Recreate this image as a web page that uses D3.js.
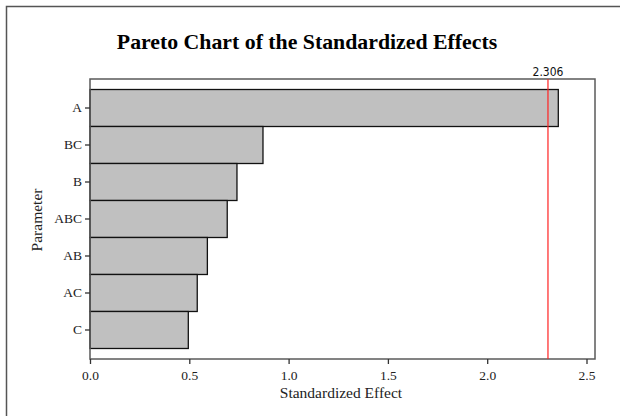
<!DOCTYPE html>
<html>
<head>
<meta charset="utf-8">
<script src="https://cdn.jsdelivr.net/npm/d3@7/dist/d3.min.js"></script>
<style>
  html, body { margin: 0; padding: 0; background: #fff; }
  svg { display: block; }
</style>
</head>
<body>
<script>
// Effect terms, ordered from largest to smallest standardized effect
const terms = ["A", "BC", "B", "ABC", "AB", "AC", "C"];
const effects = [2.358, 0.871, 0.740, 0.691, 0.591, 0.540, 0.495];
const xTicks = [0, 0.5, 1.0, 1.5, 2.0, 2.5];
const criticalValue = 2.306;

const W = 620, H = 416;
const plotLeft = 90, plotRight = 595, plotTop = 79, plotBottom = 359;
const serif = "Liberation Serif, Times New Roman, serif";

const svg = d3.select("body").append("svg")
  .attr("width", W).attr("height", H);

// outer frame (left and top edges)
svg.append("path")
  .attr("d", `M6.5,${H} L6.5,6.5 L${W},6.5`)
  .attr("fill", "none").attr("stroke", "#555").attr("stroke-width", 1.5);

svg.append("text")
  .attr("x", 307).attr("y", 49)
  .attr("text-anchor", "middle")
  .attr("font-family", serif)
  .attr("font-weight", "bold").attr("font-size", 21.8)
  .text("Pareto Chart of the Standardized Effects");

const x = d3.scaleLinear().domain([0, 505 / 198.6]).range([plotLeft, plotRight]);
const y = d3.scaleBand().domain(terms).range([plotTop, plotBottom])
  .paddingInner(0).paddingOuter(0.284);

// bars
svg.append("g").selectAll("rect")
  .data(terms.map((t, i) => ({ t, v: effects[i] })))
  .join("rect")
  .attr("x", x(0))
  .attr("y", d => y(d.t))
  .attr("width", d => x(d.v) - x(0))
  .attr("height", y.bandwidth())
  .attr("fill", "#c0c0c0")
  .attr("stroke", "#111").attr("stroke-width", 1.3);

// plot frame
svg.append("rect")
  .attr("x", plotLeft).attr("y", plotTop)
  .attr("width", plotRight - plotLeft).attr("height", plotBottom - plotTop)
  .attr("fill", "none").attr("stroke", "#5a5a5a").attr("stroke-width", 1.5);

// critical value reference line
svg.append("line")
  .attr("x1", x(criticalValue)).attr("x2", x(criticalValue))
  .attr("y1", plotTop).attr("y2", plotBottom)
  .attr("stroke", "#ff2020").attr("stroke-width", 1.2);

svg.append("text")
  .attr("x", x(criticalValue)).attr("y", 76)
  .attr("text-anchor", "middle")
  .attr("font-family", "DejaVu Sans Condensed, DejaVu Sans, sans-serif")
  .attr("font-stretch", "condensed")
  .attr("font-size", 12).attr("fill", "#111")
  .text(criticalValue.toFixed(3));

// axes
const xAxis = svg.append("g")
  .attr("transform", `translate(0,${plotBottom})`)
  .call(d3.axisBottom(x).tickValues(xTicks).tickFormat(d3.format(".1f")).tickSize(5).tickPadding(6));
const yAxis = svg.append("g")
  .attr("transform", `translate(${plotLeft},0)`)
  .call(d3.axisLeft(y).tickSize(5).tickPadding(3));

[xAxis, yAxis].forEach(g => {
  g.select(".domain").remove();
  g.selectAll(".tick line").attr("stroke", "#333").attr("stroke-width", 1.3);
  g.selectAll(".tick text")
    .attr("font-family", serif)
    .attr("font-size", 13.5).attr("fill", "#222");
});

svg.append("text")
  .attr("x", 341).attr("y", 398)
  .attr("text-anchor", "middle")
  .attr("font-family", serif)
  .attr("font-size", 15.5).attr("fill", "#222")
  .text("Standardized Effect");

svg.append("text")
  .attr("transform", `translate(42,220) rotate(-90)`)
  .attr("text-anchor", "middle")
  .attr("font-family", serif)
  .attr("font-size", 15.5).attr("fill", "#222")
  .text("Parameter");
</script>
</body>
</html>
